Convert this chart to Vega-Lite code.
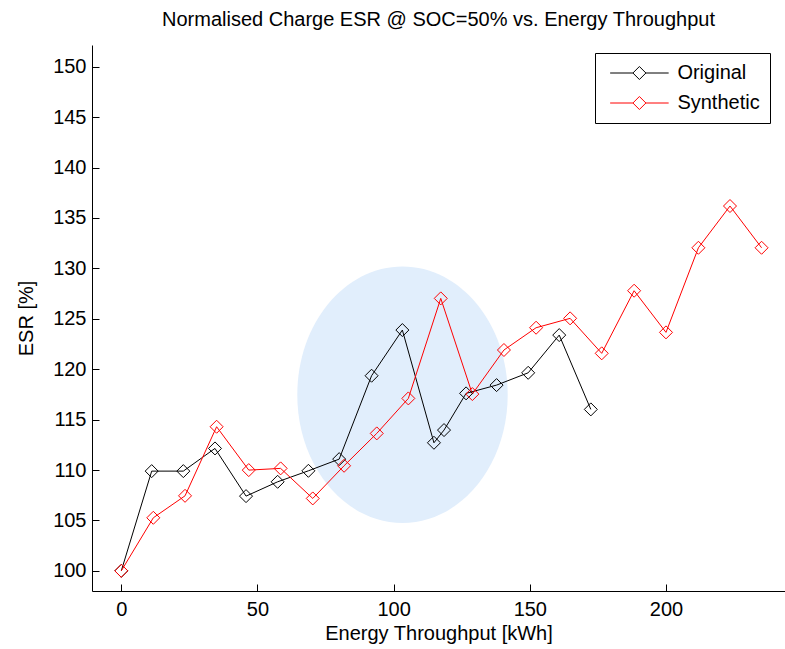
{
  "$schema": "https://vega.github.io/schema/vega-lite/v6.json",
  "width": 693,
  "height": 546,
  "autosize": {"type": "none"},
  "padding": {"left": 92, "top": 45, "right": 0, "bottom": 58},
  "background": "white",
  "title": {
    "text": "Normalised Charge ESR @ SOC=50% vs. Energy Throughput",
    "fontSize": 20,
    "fontWeight": "normal",
    "font": "Liberation Sans",
    "color": "black",
    "offset": 15,
    "anchor": "middle"
  },
  "config": {
    "view": {"stroke": null},
    "font": "Liberation Sans",
    "axis": {
      "domainColor": "black",
      "domainWidth": 1,
      "tickColor": "black",
      "tickWidth": 1,
      "tickSize": -7,
      "labelColor": "black",
      "titleColor": "black",
      "labelFontSize": 20,
      "titleFontSize": 20,
      "titleFontWeight": "normal",
      "labelFont": "Liberation Sans",
      "titleFont": "Liberation Sans",
      "grid": false,
      "labelFlush": false,
      "labelOverlap": false
    }
  },
  "datasets": {
    "ell": [{"x": 103.25, "y": 117.46}],
    "pts": [
      {"series": "Original", "x": 0, "y": 100},
      {"series": "Original", "x": 11.16, "y": 109.89},
      {"series": "Original", "x": 22.77, "y": 109.89},
      {"series": "Original", "x": 34.4, "y": 112.14},
      {"series": "Original", "x": 45.8, "y": 107.41},
      {"series": "Original", "x": 57.4, "y": 108.83},
      {"series": "Original", "x": 68.7, "y": 109.92},
      {"series": "Original", "x": 80.0, "y": 111.08},
      {"series": "Original", "x": 91.9, "y": 119.35},
      {"series": "Original", "x": 103.2, "y": 123.88},
      {"series": "Original", "x": 114.8, "y": 112.7},
      {"series": "Original", "x": 118.5, "y": 113.96},
      {"series": "Original", "x": 126.6, "y": 117.6},
      {"series": "Original", "x": 137.8, "y": 118.42},
      {"series": "Original", "x": 149.4, "y": 119.64},
      {"series": "Original", "x": 160.8, "y": 123.38},
      {"series": "Original", "x": 172.4, "y": 116.01},
      {"series": "Synthetic", "x": 0, "y": 100},
      {"series": "Synthetic", "x": 11.75, "y": 105.26},
      {"series": "Synthetic", "x": 23.4, "y": 107.44},
      {"series": "Synthetic", "x": 35.0, "y": 114.29},
      {"series": "Synthetic", "x": 46.8, "y": 109.99},
      {"series": "Synthetic", "x": 58.5, "y": 110.16},
      {"series": "Synthetic", "x": 70.3, "y": 107.18},
      {"series": "Synthetic", "x": 81.8, "y": 110.42},
      {"series": "Synthetic", "x": 93.8, "y": 113.63},
      {"series": "Synthetic", "x": 105.4, "y": 117.1},
      {"series": "Synthetic", "x": 117.3, "y": 127.02},
      {"series": "Synthetic", "x": 128.9, "y": 117.53},
      {"series": "Synthetic", "x": 140.5, "y": 121.9},
      {"series": "Synthetic", "x": 152.3, "y": 124.11},
      {"series": "Synthetic", "x": 164.8, "y": 125.04},
      {"series": "Synthetic", "x": 176.4, "y": 121.57},
      {"series": "Synthetic", "x": 188.3, "y": 127.78},
      {"series": "Synthetic", "x": 200.0, "y": 123.65},
      {"series": "Synthetic", "x": 211.9, "y": 132.04},
      {"series": "Synthetic", "x": 223.5, "y": 136.18},
      {"series": "Synthetic", "x": 235.1, "y": 132.04}
    ]
  },
  "encoding": {
    "x": {
      "field": "x",
      "type": "quantitative",
      "scale": {"domain": [-10.76, 243.7], "nice": false, "zero": false},
      "axis": {
        "title": "Energy Throughput [kWh]",
        "values": [0, 50, 100, 150, 200],
        "labelPadding": 15,
        "titlePadding": 4
      }
    },
    "y": {
      "field": "y",
      "type": "quantitative",
      "scale": {"domain": [98, 152.15], "nice": false, "zero": false},
      "axis": {
        "title": "ESR [%]",
        "values": [100, 105, 110, 115, 120, 125, 130, 135, 140, 145, 150],
        "labelPadding": 13,
        "titlePadding": 16
      }
    }
  },
  "layer": [
    {
      "data": {"name": "ell"},
      "mark": {
        "type": "point",
        "shape": "M-0.8206,0 A0.8206,1 0 1,1 0.8206,0 A0.8206,1 0 1,1 -0.8206,0 Z",
        "size": 65741,
        "filled": true,
        "color": "#e1eefc",
        "opacity": 1,
        "strokeWidth": 0
      }
    },
    {
      "data": {"name": "pts"},
      "mark": {"type": "line", "strokeWidth": 1},
      "encoding": {
        "color": {
          "field": "series",
          "type": "nominal",
          "scale": {"domain": ["Original", "Synthetic"], "range": ["#000000", "#ff0000"]},
          "legend": {
            "title": null,
            "orient": "none",
            "legendX": 503,
            "legendY": 8,
            "symbolType": "M-4.5,0 L-1,0 M0,-1 L1,0 L0,1 L-1,0 Z M1,0 L4.5,0",
            "symbolSize": 169,
            "symbolStrokeWidth": 1,
            "symbolFillColor": "white",
            "labelFontSize": 20,
            "labelFont": "Liberation Sans",
            "labelColor": "black",
            "strokeColor": "black",
            "fillColor": "white",
            "padding": 10,
            "rowPadding": 10,
            "symbolOffset": 24.4,
            "labelOffset": 28
          }
        }
      }
    },
    {
      "data": {"name": "pts"},
      "mark": {"type": "point", "shape": "diamond", "size": 169, "filled": false, "strokeWidth": 1, "opacity": 1},
      "encoding": {
        "color": {"field": "series", "type": "nominal"}
      }
    }
  ]
}
